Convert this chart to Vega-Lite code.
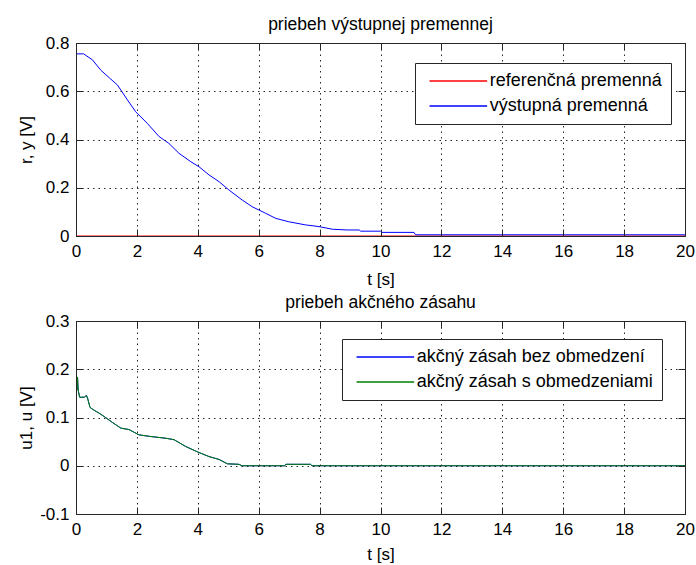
{
  "$schema": "https://vega.github.io/schema/vega-lite/v6.json",
  "background": "white",
  "padding": {"left": 16, "top": 15, "right": 0, "bottom": 0},
  "spacing": 5,
  "resolve": {"scale": {"color": "independent"}, "legend": {"color": "independent"}},
  "config": {
    "font": "Liberation Sans",
    "view": {"stroke": "#262626", "strokeWidth": 1},
    "axis": {
      "labelFont": "Liberation Sans", "labelFontSize": 17, "labelColor": "#000000",
      "titleFont": "Liberation Sans", "titleFontSize": 17, "titleFontWeight": "normal", "titleColor": "#000000",
      "domainColor": "#262626", "tickColor": "#262626", "gridColor": "#262626",
      "gridDash": [1.5, 4], "gridOpacity": 1, "gridWidth": 1,
      "tickSize": -7, "tickWidth": 1, "domainWidth": 1,
      "labelFlush": false, "labelOverlap": false, "zindex": 2
    },
    "title": {"font": "Liberation Sans", "fontSize": 17.5, "fontWeight": "normal", "color": "#000000", "anchor": "middle", "frame": "group", "baseline": "alphabetic", "offset": 1},
    "legend": {
      "orient": "none", "title": null, "zindex": 3,
      "strokeColor": "#262626", "strokeWidth": 1, "fillColor": "white",
      "padding": 9, "rowPadding": 7, "labelLimit": 0,
      "symbolType": "M-9.6,0H9.6", "symbolSize": 36, "symbolStrokeWidth": 1.3,
      "symbolOffset": 25.35, "labelOffset": 22.35,
      "labelFont": "Liberation Sans", "labelFontSize": 18, "labelColor": "#000000"
    }
  },
  "datasets": {
    "ref": [{"t": 0, "v": 0}, {"t": 20, "v": 0}],
    "y": [
      {"t": 0, "v": 0.755}, {"t": 0.25, "v": 0.755}, {"t": 0.54, "v": 0.73}, {"t": 0.81, "v": 0.688},
      {"t": 1.1, "v": 0.655}, {"t": 1.36, "v": 0.626}, {"t": 1.69, "v": 0.564}, {"t": 1.96, "v": 0.515},
      {"t": 2.34, "v": 0.467}, {"t": 2.73, "v": 0.412}, {"t": 3.05, "v": 0.384}, {"t": 3.38, "v": 0.343},
      {"t": 3.77, "v": 0.308}, {"t": 4.04, "v": 0.287}, {"t": 4.37, "v": 0.253}, {"t": 4.7, "v": 0.225},
      {"t": 5.02, "v": 0.191}, {"t": 5.46, "v": 0.149}, {"t": 5.79, "v": 0.121}, {"t": 6.23, "v": 0.094},
      {"t": 6.56, "v": 0.073}, {"t": 6.99, "v": 0.059}, {"t": 7.54, "v": 0.046}, {"t": 7.98, "v": 0.039},
      {"t": 8.42, "v": 0.028}, {"t": 8.9, "v": 0.025}, {"t": 9.3, "v": 0.025}, {"t": 9.35, "v": 0.02},
      {"t": 10.0, "v": 0.02}, {"t": 10.05, "v": 0.015}, {"t": 11.1, "v": 0.015}, {"t": 11.15, "v": 0.005},
      {"t": 20, "v": 0.005}
    ],
    "u": [
      {"t": 0, "v": 0.184}, {"t": 0.03, "v": 0.157}, {"t": 0.05, "v": 0.184}, {"t": 0.07, "v": 0.157},
      {"t": 0.12, "v": 0.142}, {"t": 0.28, "v": 0.142}, {"t": 0.34, "v": 0.146}, {"t": 0.38, "v": 0.14},
      {"t": 0.46, "v": 0.121}, {"t": 0.57, "v": 0.116}, {"t": 0.76, "v": 0.109}, {"t": 0.97, "v": 0.1},
      {"t": 1.19, "v": 0.09}, {"t": 1.47, "v": 0.078}, {"t": 1.74, "v": 0.075}, {"t": 2.07, "v": 0.064},
      {"t": 2.4, "v": 0.061}, {"t": 2.95, "v": 0.057}, {"t": 3.22, "v": 0.054}, {"t": 3.6, "v": 0.04},
      {"t": 3.98, "v": 0.029}, {"t": 4.37, "v": 0.019}, {"t": 4.7, "v": 0.013}, {"t": 4.97, "v": 0.004},
      {"t": 5.35, "v": 0.003}, {"t": 5.45, "v": 0}, {"t": 6.85, "v": 0}, {"t": 6.9, "v": 0.003},
      {"t": 7.7, "v": 0.003}, {"t": 7.75, "v": 0}, {"t": 20, "v": 0}
    ]
  },
  "vconcat": [
    {
      "width": 609, "height": 193,
      "title": {"text": "priebeh výstupnej premennej"},
      "resolve": {"axis": {"x": "independent", "y": "independent"}},
      "layer": [
        {
          "data": {"name": "ref"},
          "mark": {"type": "line", "strokeWidth": 1, "clip": true},
          "encoding": {
            "x": {"field": "t", "type": "quantitative", "scale": {"domain": [0, 20], "nice": false, "zero": false},
              "axis": {"orient": "bottom", "values": [0, 2, 4, 6, 8, 10, 12, 14, 16, 18, 20], "grid": true, "title": "t [s]",
                "labelPadding": 14, "titleBaseline": "alphabetic", "titleY": 48, "zindex": 2}},
            "y": {"field": "v", "type": "quantitative", "scale": {"domain": [0, 0.8], "nice": false},
              "axis": {"orient": "left", "values": [0, 0.2, 0.4, 0.6, 0.8], "grid": true, "title": "r, y [V]", "zindex": 2,
                "labelPadding": 14, "labelExpr": "datum.value == 0 ? '0' : replace(format(datum.value, '.1f'), '−', '-')",
                "titleBaseline": "alphabetic", "titleAlign": "center", "titleAngle": -90, "titleX": -45, "titleY": 96.5}},
            "color": {"datum": "referenčná premenná", "type": "nominal",
              "scale": {"domain": ["referenčná premenná", "výstupná premenná"], "range": ["#ff0000", "#0000ff"]},
              "legend": {"legendX": 339, "legendY": 20}}
          }
        },
        {
          "data": {"name": "y"},
          "mark": {"type": "line", "strokeWidth": 1, "clip": true},
          "encoding": {
            "x": {"field": "t", "type": "quantitative",
              "axis": {"orient": "top", "values": [0, 2, 4, 6, 8, 10, 12, 14, 16, 18, 20], "grid": false, "labels": false, "title": null, "zindex": 2}},
            "y": {"field": "v", "type": "quantitative",
              "axis": {"orient": "right", "values": [0, 0.2, 0.4, 0.6, 0.8], "grid": false, "labels": false, "title": null, "zindex": 2}},
            "color": {"datum": "výstupná premenná", "type": "nominal"}
          }
        }
      ]
    },
    {
      "width": 609, "height": 193,
      "title": {"text": "priebeh akčného zásahu"},
      "resolve": {"axis": {"x": "independent", "y": "independent"}},
      "layer": [
        {
          "data": {"name": "u"},
          "mark": {"type": "line", "strokeWidth": 1, "clip": true},
          "encoding": {
            "x": {"field": "t", "type": "quantitative", "scale": {"domain": [0, 20], "nice": false, "zero": false},
              "axis": {"orient": "bottom", "values": [0, 2, 4, 6, 8, 10, 12, 14, 16, 18, 20], "grid": true, "title": "t [s]", "zindex": 2,
                "labelPadding": 14, "titleBaseline": "alphabetic", "titleY": 45}},
            "y": {"field": "v", "type": "quantitative", "scale": {"domain": [-0.1, 0.3], "nice": false, "zero": false},
              "axis": {"orient": "left", "values": [-0.1, 0, 0.1, 0.2, 0.3], "grid": true, "title": "u1, u [V]", "zindex": 2,
                "labelPadding": 14, "labelExpr": "datum.value == 0 ? '0' : replace(format(datum.value, '.1f'), '−', '-')",
                "titleBaseline": "alphabetic", "titleAlign": "center", "titleAngle": -90, "titleX": -45, "titleY": 96.5}},
            "color": {"datum": "akčný zásah bez obmedzení", "type": "nominal",
              "scale": {"domain": ["akčný zásah bez obmedzení", "akčný zásah s obmedzeniami"], "range": ["#0000ff", "#008000"]},
              "legend": {"legendX": 266, "legendY": 18}}
          }
        },
        {
          "data": {"name": "u"},
          "mark": {"type": "line", "strokeWidth": 1, "clip": true},
          "encoding": {
            "x": {"field": "t", "type": "quantitative",
              "axis": {"orient": "top", "values": [0, 2, 4, 6, 8, 10, 12, 14, 16, 18, 20], "grid": false, "labels": false, "title": null, "zindex": 2}},
            "y": {"field": "v", "type": "quantitative",
              "axis": {"orient": "right", "values": [-0.1, 0, 0.1, 0.2, 0.3], "grid": false, "labels": false, "title": null, "zindex": 2}},
            "color": {"datum": "akčný zásah s obmedzeniami", "type": "nominal"}
          }
        }
      ]
    }
  ]
}
